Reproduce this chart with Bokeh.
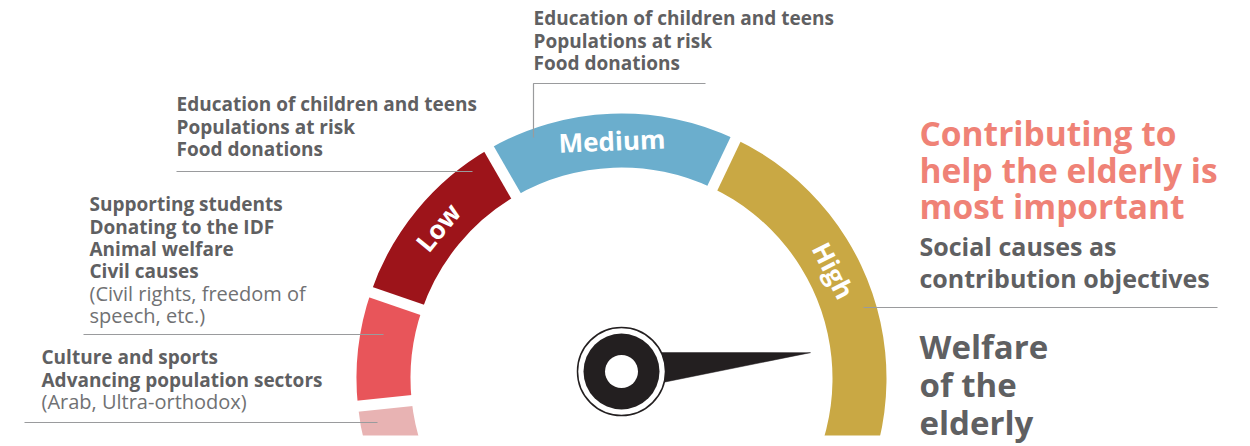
import numpy as np
from bokeh.plotting import figure
from bokeh.models import Range1d
from bokeh.embed import file_html
from bokeh.resources import INLINE
from bokeh.core.properties import value

W, H = 1250, 446

# ---------------- data ----------------
levels = ["Lowest", "Lower", "Low", "Medium", "High"]
level_labels = ["", "", "Low", "Medium", "High"]
start_deg = [186.0, 161.0, 120.0, 64.5, -40.0]
end_deg = [230.0, 186.0, 161.0, 120.0, 64.5]
level_colors = ["#E8B3B3", "#E8555A", "#9D141A", "#6BAECD", "#C9A844"]
label_deg = [None, None, 140.5, 92.3, 27.0]
needle_deg = 5.7

top_lines = ["Education of children and teens", "Populations at risk", "Food donations"]
low_lines = ["Education of children and teens", "Populations at risk", "Food donations"]
lower_lines = ["Supporting students", "Donating to the IDF", "Animal welfare", "Civil causes"]
lower_note = ["(Civil rights, freedom of", "speech, etc.)"]
lowest_lines = ["Culture and sports", "Advancing population sectors"]
lowest_note = ["(Arab, Ultra-orthodox)"]
title_lines = ["Contributing to", "help the elderly is", "most important"]
subtitle_lines = ["Social causes as", "contribution objectives"]
focus_lines = ["Welfare", "of the", "elderly"]

# ---------------- layout ----------------
FONT = value("Open Sans")
GRAY = "#5F6062"
NOTE_GRAY = "#707173"
CORAL = "#EF8276"
LINE_GRAY = "#9A9B9D"

def Y(ypix):
    return H - ypix

cx, cy = 621.0, Y(378)
r_in, r_out = 211.0, 265.0
hx, hy = 621.0, Y(371)

p = figure(width=W, height=H, x_range=Range1d(0, W), y_range=Range1d(0, H),
           toolbar_location=None, output_backend="svg",
           x_axis_location=None, y_axis_location=None, min_border=0)
p.grid.visible = False
p.outline_line_color = None
p.background_fill_color = "white"
p.border_fill_color = "white"

# gauge bands
p.annular_wedge(x=cx, y=cy, inner_radius=r_in, outer_radius=r_out,
                start_angle=start_deg, end_angle=end_deg,
                start_angle_units="deg", end_angle_units="deg",
                fill_color=level_colors, line_color=None)

# white gaps between bands
bounds = np.radians(np.array(end_deg[1:]))
gx0 = cx + (r_in - 8) * np.cos(bounds)
gy0 = cy + (r_in - 8) * np.sin(bounds)
gx1 = cx + (r_out + 8) * np.cos(bounds)
gy1 = cy + (r_out + 8) * np.sin(bounds)
p.segment(x0=gx0, y0=gy0, x1=gx1, y1=gy1, line_color="white", line_width=11)

# crop of the gauge bottom
p.quad(left=0, right=W, bottom=0, top=Y(435), fill_color="white", line_color=None)

# band labels
lab_idx = [i for i, t in enumerate(level_labels) if t]
la = np.radians(np.array([label_deg[i] for i in lab_idx]))
r_mid = (r_in + r_out) / 2
p.text(x=cx + r_mid * np.cos(la), y=cy + r_mid * np.sin(la),
       text=[level_labels[i] for i in lab_idx], angle=la - np.pi / 2,
       text_align="center", text_baseline="middle", text_color="white",
       text_font=FONT, text_font_style="bold", text_font_size="26px")

# leader lines
p.line(x=[533, 533, 705], y=[Y(137), Y(83), Y(83)], line_color=LINE_GRAY, line_width=1.2)
p.line(x=[176, 472], y=[Y(171), Y(171)], line_color=LINE_GRAY, line_width=1.2)
p.line(x=[83, 383], y=[Y(334), Y(334)], line_color=LINE_GRAY, line_width=1.2)
p.line(x=[24, 377], y=[Y(422), Y(422)], line_color=LINE_GRAY, line_width=1.2)
p.line(x=[863, 1217], y=[Y(307), Y(307)], line_color=LINE_GRAY, line_width=1.2)

# needle
na = np.radians(needle_deg)
nlen, nhw = 190.0, 19.0
tip = (hx + nlen * np.cos(na), hy + nlen * np.sin(na))
b1 = (hx - nhw * np.sin(na), hy + nhw * np.cos(na))
b2 = (hx + nhw * np.sin(na), hy - nhw * np.cos(na))
p.patch(x=[b1[0], tip[0], b2[0]], y=[b1[1], tip[1], b2[1]],
        fill_color="#231F20", line_color="#231F20", line_width=0.5)

# hub
p.circle(x=[hx], y=[hy], radius=44, fill_color="white", line_color="#231F20", line_width=1.5)
p.circle(x=[hx], y=[hy], radius=38, fill_color="#231F20", line_color=None)
p.circle(x=[hx], y=[hy], radius=16.5, fill_color="white", line_color=None)

def block(lines, x, y0, step, size, color, style="bold"):
    shift = 0.37 * size
    ys = [Y(y0 + i * step - shift) for i in range(len(lines))]
    p.text(x=[x] * len(lines), y=ys, text=lines, text_align="left",
           text_baseline="alphabetic", text_color=color, text_font=FONT,
           text_font_style=style, text_font_size=f"{size}px")

block(top_lines, 533, 25, 22.3, 19, GRAY)
block(low_lines, 176, 111, 22.5, 19, GRAY)
block(lower_lines, 89, 211, 22.2, 19, GRAY)
block(lower_note, 89, 300, 22.2, 20, NOTE_GRAY, "normal")
block(lowest_lines, 41, 364, 22.2, 19, GRAY)
block(lowest_note, 41, 408, 22.2, 20, NOTE_GRAY, "normal")
block(title_lines, 919, 145, 36.5, 33.5, CORAL)
block(subtitle_lines, 919, 255, 32, 25, GRAY)
block(focus_lines, 919, 358, 38.3, 33, GRAY)

open("out.html", "w").write(file_html(p, INLINE))
